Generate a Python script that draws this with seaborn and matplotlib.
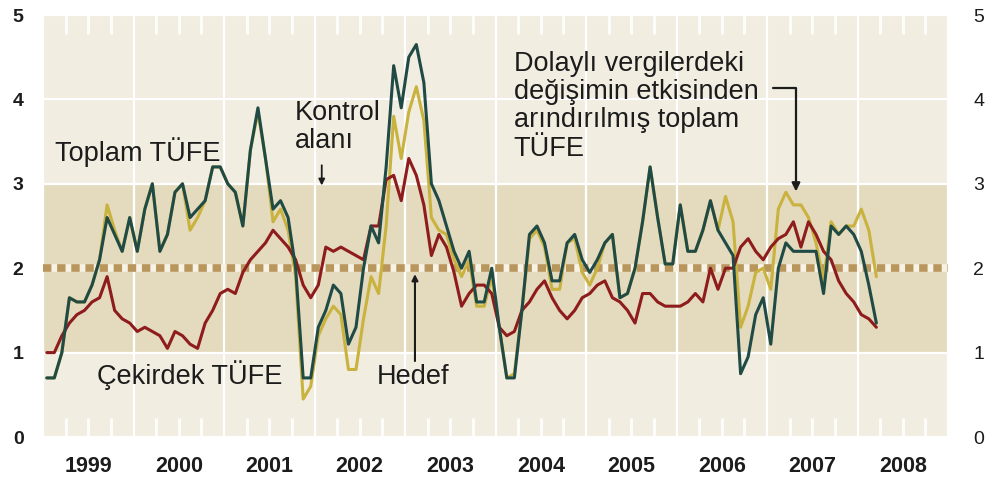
import numpy as np
import pandas as pd
import matplotlib
matplotlib.use("Agg")
import matplotlib.pyplot as plt
import matplotlib.transforms as mtransforms
import seaborn as sns
from matplotlib.ticker import FixedLocator, FixedFormatter, NullFormatter

# ---------------- data (monthly, Jan 1999 - Mar 2008) ----------------
total_cpi = [
    0.7, 0.7, 1.0, 1.65, 1.6, 1.6, 1.8, 2.1, 2.6, 2.4, 2.2, 2.6,      # 1999
    2.2, 2.7, 3.0, 2.2, 2.4, 2.9, 3.0, 2.6, 2.7, 2.8, 3.2, 3.2,       # 2000
    3.0, 2.9, 2.5, 3.4, 3.9, 3.3, 2.7, 2.8, 2.6, 2.0, 0.7, 0.7,       # 2001
    1.3, 1.5, 1.8, 1.7, 1.1, 1.3, 2.0, 2.5, 2.3, 3.2, 4.4, 3.9,       # 2002
    4.5, 4.65, 4.2, 3.0, 2.8, 2.5, 2.2, 2.0, 2.2, 1.6, 1.6, 2.0,      # 2003
    1.3, 0.7, 0.7, 1.5, 2.4, 2.5, 2.3, 1.85, 1.85, 2.3, 2.4, 2.1,     # 2004
    1.95, 2.1, 2.3, 2.4, 1.65, 1.7, 2.0, 2.55, 3.2, 2.6, 2.05, 2.05,  # 2005
    2.75, 2.2, 2.2, 2.45, 2.8, 2.45, 2.3, 2.15, 0.75, 0.95, 1.45, 1.65,  # 2006
    1.1, 2.0, 2.3, 2.2, 2.2, 2.2, 2.2, 1.7, 2.5, 2.4, 2.5, 2.4,       # 2007
    2.2, 1.8, 1.35,                                                   # 2008
]

core_cpi = [
    1.0, 1.0, 1.2, 1.35, 1.45, 1.5, 1.6, 1.65, 1.9, 1.5, 1.4, 1.35,   # 1999
    1.25, 1.3, 1.25, 1.2, 1.05, 1.25, 1.2, 1.1, 1.05, 1.35, 1.5, 1.7, # 2000
    1.75, 1.7, 1.95, 2.1, 2.2, 2.3, 2.45, 2.35, 2.25, 2.1, 1.8, 1.65, # 2001
    1.8, 2.25, 2.2, 2.25, 2.2, 2.15, 2.1, 2.5, 2.5, 3.05, 3.1, 2.8,   # 2002
    3.3, 3.1, 2.75, 2.15, 2.4, 2.25, 1.95, 1.55, 1.7, 1.8, 1.8, 1.7,  # 2003
    1.3, 1.2, 1.25, 1.5, 1.6, 1.75, 1.85, 1.65, 1.5, 1.4, 1.5, 1.65,  # 2004
    1.7, 1.8, 1.85, 1.65, 1.6, 1.5, 1.35, 1.7, 1.7, 1.6, 1.55, 1.55,  # 2005
    1.55, 1.6, 1.7, 1.6, 2.0, 1.75, 2.0, 2.0, 2.25, 2.35, 2.2, 2.1,   # 2006
    2.25, 2.35, 2.4, 2.55, 2.25, 2.55, 2.4, 2.2, 2.1, 1.85, 1.7, 1.6, # 2007
    1.45, 1.4, 1.3,                                                   # 2008
]

total_ex_tax = [
    0.7, 0.7, 1.0, 1.65, 1.6, 1.6, 1.8, 2.1, 2.75, 2.45, 2.2, 2.6,    # 1999
    2.2, 2.7, 3.0, 2.2, 2.4, 2.9, 3.0, 2.45, 2.6, 2.8, 3.2, 3.2,      # 2000
    3.0, 2.9, 2.5, 3.4, 3.85, 3.3, 2.55, 2.7, 2.45, 1.9, 0.45, 0.6,   # 2001
    1.2, 1.4, 1.55, 1.45, 0.8, 0.8, 1.4, 1.9, 1.7, 2.5, 3.8, 3.3,     # 2002
    3.85, 4.15, 3.75, 2.6, 2.45, 2.4, 2.1, 1.9, 2.1, 1.55, 1.55, 1.9, # 2003
    1.3, 0.7, 0.75, 1.5, 2.35, 2.45, 2.25, 1.75, 1.75, 2.3, 2.35, 1.95,  # 2004
    1.8, 2.0, 2.3, 2.4, 1.65, 1.7, 2.0, 2.55, 3.2, 2.6, 2.05, 2.05,   # 2005
    2.75, 2.2, 2.2, 2.45, 2.8, 2.45, 2.85, 2.55, 1.3, 1.55, 1.95, 2.0,   # 2006
    1.75, 2.7, 2.9, 2.75, 2.75, 2.6, 2.3, 1.85, 2.55, 2.4, 2.5, 2.5,  # 2007
    2.7, 2.45, 1.9,                                                   # 2008
]

series_names = ["Dolaylı vergilerden arındırılmış", "Çekirdek TÜFE", "Toplam TÜFE"]
series_colors = ["#c9b23e", "#8e1c1c", "#1f4a45"]
year_labels = ["1999", "2000", "2001", "2002", "2003", "2004", "2005", "2006", "2007", "2008"]
y_ticks = [0, 1, 2, 3, 4, 5]
target = 2.0
band_low, band_high = 1.0, 3.0

# ---------------- build tidy frame ----------------
months = pd.period_range("1999-01", periods=len(total_cpi), freq="M")
xpos = months.year + (months.month - 0.5) / 12.0
frames = []
for name, vals in zip(series_names, [total_ex_tax, core_cpi, total_cpi]):
    frames.append(pd.DataFrame({"t": xpos, "v": vals, "seri": name}))
df = pd.concat(frames, ignore_index=True)

# ---------------- figure ----------------
sns.set_style("white")
plt.rcParams["font.family"] = ["Liberation Sans", "DejaVu Sans"]
txt_col = "#1c1c1c"

fig = plt.figure(figsize=(9.96, 4.83), dpi=100)
fig.patch.set_facecolor("white")
ax = fig.add_axes([43 / 996, 46 / 483, 905 / 996, 422 / 483])
ax.set_facecolor("#f1ede0")
ax.axhspan(band_low, band_high, color="#e4dabe", zorder=0.1, lw=0)

first_year = int(year_labels[0])
n_years = len(year_labels)
ax.set_xlim(first_year, first_year + n_years)
ax.set_ylim(y_ticks[0], y_ticks[-1])

# grid
ax.set_axisbelow(True)
ax.xaxis.set_major_locator(FixedLocator(np.arange(first_year, first_year + n_years + 1)))
ax.xaxis.set_major_formatter(NullFormatter())
quarters = []
qlabels = []
for k, lab in enumerate(year_labels):
    for q in (0.25, 0.5, 0.75):
        quarters.append(first_year + k + q)
        qlabels.append(lab if q == 0.5 else "")
ax.xaxis.set_minor_locator(FixedLocator(quarters))
ax.xaxis.set_minor_formatter(FixedFormatter(qlabels))
ax.set_yticks(y_ticks)
ax.grid(True, which="major", color="white", lw=1.6)

# target line
ax.axhline(target, color="#f7f2e6", lw=5.5, zorder=1.5)
ax.axhline(target, color="#b8965c", lw=5.5, dashes=(1.1, 0.75), zorder=1.6)

sns.lineplot(data=df, x="t", y="v", hue="seri", hue_order=series_names,
             palette=dict(zip(series_names, series_colors)), lw=2.2,
             estimator=None, sort=False, legend=False, ax=ax, zorder=3)

ax.set_xlabel("")
ax.set_ylabel("")
for s in ax.spines.values():
    s.set_visible(False)

ax.tick_params(axis="x", which="major", length=0, bottom=False, top=False)
ax.tick_params(axis="x", which="minor", direction="in", length=14, width=2.2,
               color=(1, 1, 1, 0.85), top=True, bottom=True, labeltop=False,
               labelbottom=True, pad=14, labelsize=15.5, labelcolor=txt_col)
for lab in ax.xaxis.get_minorticklabels():
    lab.set_fontweight("bold")
ax.tick_params(axis="y", which="major", length=0, left=False, right=False,
               labelleft=True, labelright=True, labelsize=14, labelcolor=txt_col)
for tk in ax.yaxis.get_major_ticks():
    tk.set_pad(14)
    tk.label1.set_fontweight("bold")
    tk.label2.set_fontweight("normal")
    tk.label2.set_transform(tk.label2.get_transform() +
                            mtransforms.ScaledTranslation(4 / 72, 0, fig.dpi_scale_trans))

# annotations
fs = 19.5
ax.text(1999.13, 3.37, "Toplam TÜFE", fontsize=fs, color=txt_col, va="center", ha="left")
ax.text(1999.60, 0.73, "Çekirdek TÜFE", fontsize=fs, color=txt_col, va="center", ha="left")
ax.text(2001.78, 3.67, "Kontrol\nalanı", fontsize=fs, color=txt_col, va="center",
        ha="left", linespacing=1.1)
ax.annotate("", xy=(2002.08, 2.98), xytext=(2002.08, 3.22),
            arrowprops=dict(arrowstyle="-|>", lw=1.3, color=txt_col,
                            mutation_scale=9, shrinkA=0, shrinkB=0))
ax.text(2002.69, 0.71, "Hedef", fontsize=fs, color=txt_col, va="center", ha="left")
ax.annotate("", xy=(2003.11, 1.93), xytext=(2003.11, 0.9),
            arrowprops=dict(arrowstyle="-|>", lw=1.5, color=txt_col,
                            mutation_scale=9, shrinkA=0, shrinkB=0))
ax.text(2004.20, 3.92, "Dolaylı vergilerdeki\ndeğişimin etkisinden\narındırılmış toplam\nTÜFE",
        fontsize=fs, color=txt_col, va="center", ha="left", linespacing=1.12)
ax.annotate("", xy=(2007.32, 2.91), xytext=(2007.07, 4.13),
            arrowprops=dict(arrowstyle="-|>", lw=1.6, color=txt_col, mutation_scale=12,
                            shrinkA=0, shrinkB=0,
                            connectionstyle="angle,angleA=0,angleB=90,rad=0"))

fig.savefig("out.png", dpi=100, facecolor="white")
